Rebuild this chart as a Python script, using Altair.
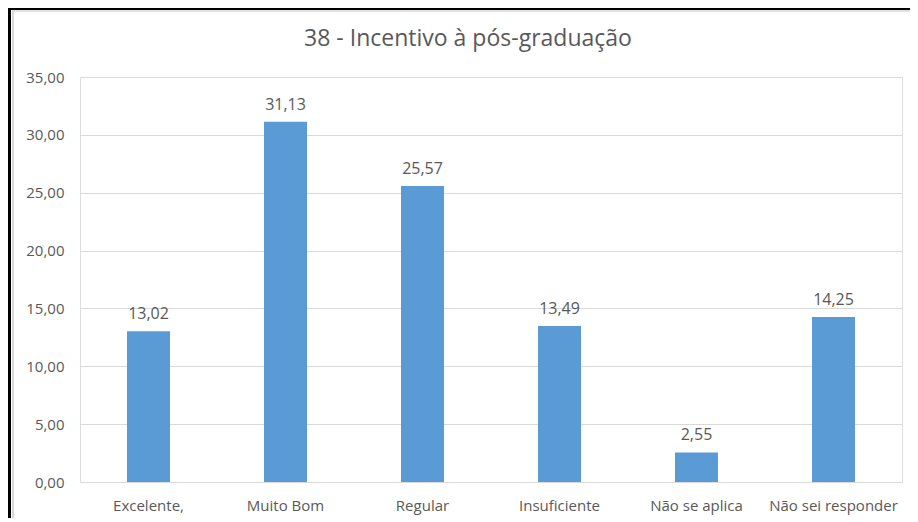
import altair as alt
import pandas as pd

categories = ["Excelente,", "Muito Bom", "Regular", "Insuficiente", "Não se aplica", "Não sei responder"]
values = [13.02, 31.13, 25.57, 13.49, 2.55, 14.25]
title_text = "38 - Incentivo à pós-graduação"
y_ticks = [0, 5, 10, 15, 20, 25, 30, 35]

df = pd.DataFrame({
    "cat": categories,
    "val": values,
    "lbl": [f"{v:.2f}".replace(".", ",") for v in values],
})

FONT = "Open Sans"
GRAY = "#595959"
W, H = 822, 405

base = alt.Chart(df).encode(
    x=alt.X("cat:N", sort=categories, title=None,
            scale=alt.Scale(paddingInner=0.686, paddingOuter=0.343),
            axis=alt.Axis(labelAngle=0, ticks=False, tickSize=0, labelPadding=16,
                          labelFont=FONT, labelFontSize=15, labelColor=GRAY,
                          domainColor="#D9D9D9", domainWidth=1, grid=False)),
    y=alt.Y("val:Q", title=None,
            scale=alt.Scale(domain=[0, 35], nice=False),
            axis=alt.Axis(values=y_ticks, ticks=False, tickSize=0, domain=False,
                          labelPadding=16, labelFont=FONT, labelFontSize=15,
                          labelColor=GRAY, gridColor="#D9D9D9", gridWidth=1,
                          labelExpr="replace(format(datum.value, '.2f'), '.', ',')")),
)

bars = base.mark_bar(color="#5B9BD5")
labels = base.mark_text(font=FONT, fontSize=16, color=GRAY, baseline="alphabetic", dy=-12).encode(
    text="lbl:N")

title = alt.Chart(pd.DataFrame({"t": [title_text]})).mark_text(
    font=FONT, fontSize=23, color=GRAY, baseline="alphabetic", align="center"
).encode(x=alt.value(388), y=alt.value(-31), text="t:N")

frame = pd.DataFrame({"k": [0]})
black_left = alt.Chart(frame).mark_rule(color="black", strokeWidth=3).encode(
    x=alt.value(-70.5), y=alt.value(-69), y2=alt.value(H + 40))
black_top = alt.Chart(frame).mark_rule(color="black", strokeWidth=2).encode(
    x=alt.value(-72), x2=alt.value(W + 20), y=alt.value(-68))
gray_left = alt.Chart(frame).mark_rule(color="#D9D9D9", strokeWidth=2).encode(
    x=alt.value(-67), y=alt.value(-66), y2=alt.value(H + 40))
gray_top = alt.Chart(frame).mark_rule(color="#D9D9D9", strokeWidth=1.5).encode(
    x=alt.value(-68), x2=alt.value(W + 20), y=alt.value(-66))

chart = alt.layer(bars, labels, title, gray_left, gray_top, black_left, black_top).properties(
    width=W, height=H,
    autosize=alt.AutoSizeParams(type="none"),
    padding={"left": 72, "top": 69, "right": 8, "bottom": 36},
).configure_view(stroke=None).configure(background="white")

chart.save("out.html", embed_options={"renderer": "svg", "actions": False})
